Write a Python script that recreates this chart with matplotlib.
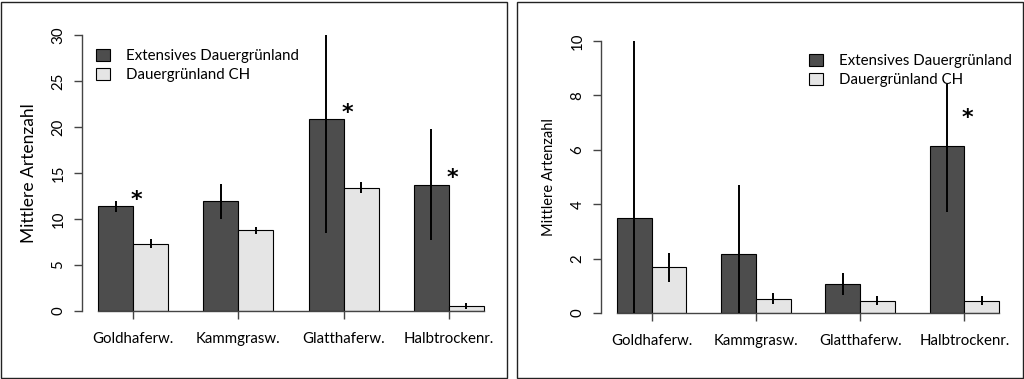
import matplotlib
matplotlib.use("Agg")
import matplotlib.pyplot as plt
from matplotlib.patches import Patch, Rectangle
import numpy as np

plt.rcParams['font.family'] = ['Lato', 'DejaVu Sans']

categories = ["Goldhaferw.", "Kammgrasw.", "Glatthaferw.", "Halbtrockenr."]
series_names = ["Extensives Dauergrünland", "Dauergrünland CH"]

# Left panel
left_ext = [11.4, 11.95, 20.85, 13.75]
left_ext_lo = [10.8, 10.05, 8.5, 7.7]
left_ext_hi = [12.0, 13.8, 30.0, 19.8]
left_ch = [7.3, 8.78, 13.42, 0.58]
left_ch_lo = [6.86, 8.38, 12.84, 0.25]
left_ch_hi = [7.8, 9.1, 14.07, 0.83]
left_sig = [True, False, True, True]
left_yticks = [0, 5, 10, 15, 20, 25, 30]

# Right panel
right_ext = [3.5, 2.17, 1.07, 6.14]
right_ext_lo = [0.0, 0.0, 0.65, 3.73]
right_ext_hi = [10.0, 4.69, 1.47, 8.42]
right_ch = [1.68, 0.53, 0.44, 0.44]
right_ch_lo = [1.15, 0.32, 0.29, 0.29]
right_ch_hi = [2.19, 0.72, 0.61, 0.61]
right_sig = [False, False, False, True]
right_yticks = [0, 2, 4, 6, 8, 10]

DARK = "#4d4d4d"
LIGHT = "#e5e5e5"
AXC = "#444444"

W, H = 1024, 379
fig = plt.figure(figsize=(W / 100, H / 100), dpi=100)

def px(x0, y0, x1, y1):
    return [x0 / W, 1 - y1 / H, (x1 - x0) / W, (y1 - y0) / H]

def panel(rect, ext, elo, ehi, ch, clo, chi, sig, yticks, ymax, sig_off, leg_anchor, ylab_size):
    ax = fig.add_axes(rect)
    n = len(categories)
    starts = 1 + 3 * np.arange(n)
    xd = starts + 0.5
    xl = starts + 1.5
    ax.bar(xd, ext, width=1.0, color=DARK, edgecolor="black", linewidth=0.8, zorder=2)
    ax.bar(xl, ch, width=1.0, color=LIGHT, edgecolor="black", linewidth=0.8, zorder=2)
    ext_a = np.array(ext); ch_a = np.array(ch)
    ax.errorbar(xd, ext_a, yerr=[ext_a - np.array(elo), np.array(ehi) - ext_a],
                fmt="none", ecolor="black", elinewidth=1.4, capsize=0, zorder=3, clip_on=False)
    ax.errorbar(xl, ch_a, yerr=[ch_a - np.array(clo), np.array(chi) - ch_a],
                fmt="none", ecolor="black", elinewidth=1.4, capsize=0, zorder=3, clip_on=False)
    for i, s in enumerate(sig):
        if s:
            ax.text(starts[i] + 1.1, ext[i] + sig_off, "*", fontsize=16, ha="center",
                    va="center_baseline", color="black", clip_on=False,
                    family="DejaVu Sans", fontweight="bold")
    ax.set_xlim(0.54, 12.46)
    ax.set_ylim(0, ymax)
    for sp in ["top", "right"]:
        ax.spines[sp].set_visible(False)
    ax.spines["left"].set_bounds(0, ymax)
    ax.spines["bottom"].set_bounds(1, 12)
    ax.spines["left"].set_color(AXC)
    ax.spines["bottom"].set_color(AXC)
    ax.spines["left"].set_linewidth(1.0)
    ax.spines["bottom"].set_linewidth(1.0)
    ax.set_xticks(starts + 1.0)
    ax.set_xticklabels(categories, fontsize=10.8)
    ax.set_yticks(yticks)
    ax.set_yticklabels([str(t) for t in yticks], fontsize=10.8, rotation=90, va="center")
    ax.tick_params(axis="both", direction="out", length=6, width=1.0, color=AXC)
    ax.tick_params(axis="x", pad=9)
    ax.tick_params(axis="y", pad=6)
    ax.set_ylabel("Mittlere Artenzahl", fontsize=ylab_size, labelpad=10)
    handles = [Patch(facecolor=DARK, edgecolor="black", linewidth=0.8),
               Patch(facecolor=LIGHT, edgecolor="black", linewidth=0.8)]
    ax.legend(handles, series_names, loc="upper left", bbox_to_anchor=leg_anchor,
              bbox_transform=fig.transFigure, frameon=False, fontsize=10.8,
              handlelength=0.9, handleheight=0.9, handletextpad=1.1,
              labelspacing=0.3, borderpad=0, borderaxespad=0)
    return ax

panel(px(82, 35, 500, 311), left_ext, left_ext_lo, left_ext_hi, left_ch, left_ch_lo, left_ch_hi,
      left_sig, left_yticks, 30, 0.9, (96 / W, 1 - 49 / H), 12.5)
panel(px(601, 41, 1015, 313), right_ext, right_ext_lo, right_ext_hi, right_ch, right_ch_lo, right_ch_hi,
      right_sig, right_yticks, 10, 1.1, (809 / W, 1 - 54 / H), 10.5)

fig.patches.append(Rectangle((1 / W, 1 / H), 506 / W, 376 / H, transform=fig.transFigure,
                             fill=False, edgecolor="#222222", linewidth=1.0))
fig.patches.append(Rectangle((517 / W, 1 / H), 506 / W, 376 / H, transform=fig.transFigure,
                             fill=False, edgecolor="#222222", linewidth=1.0))

fig.savefig("out.png", dpi=100)
